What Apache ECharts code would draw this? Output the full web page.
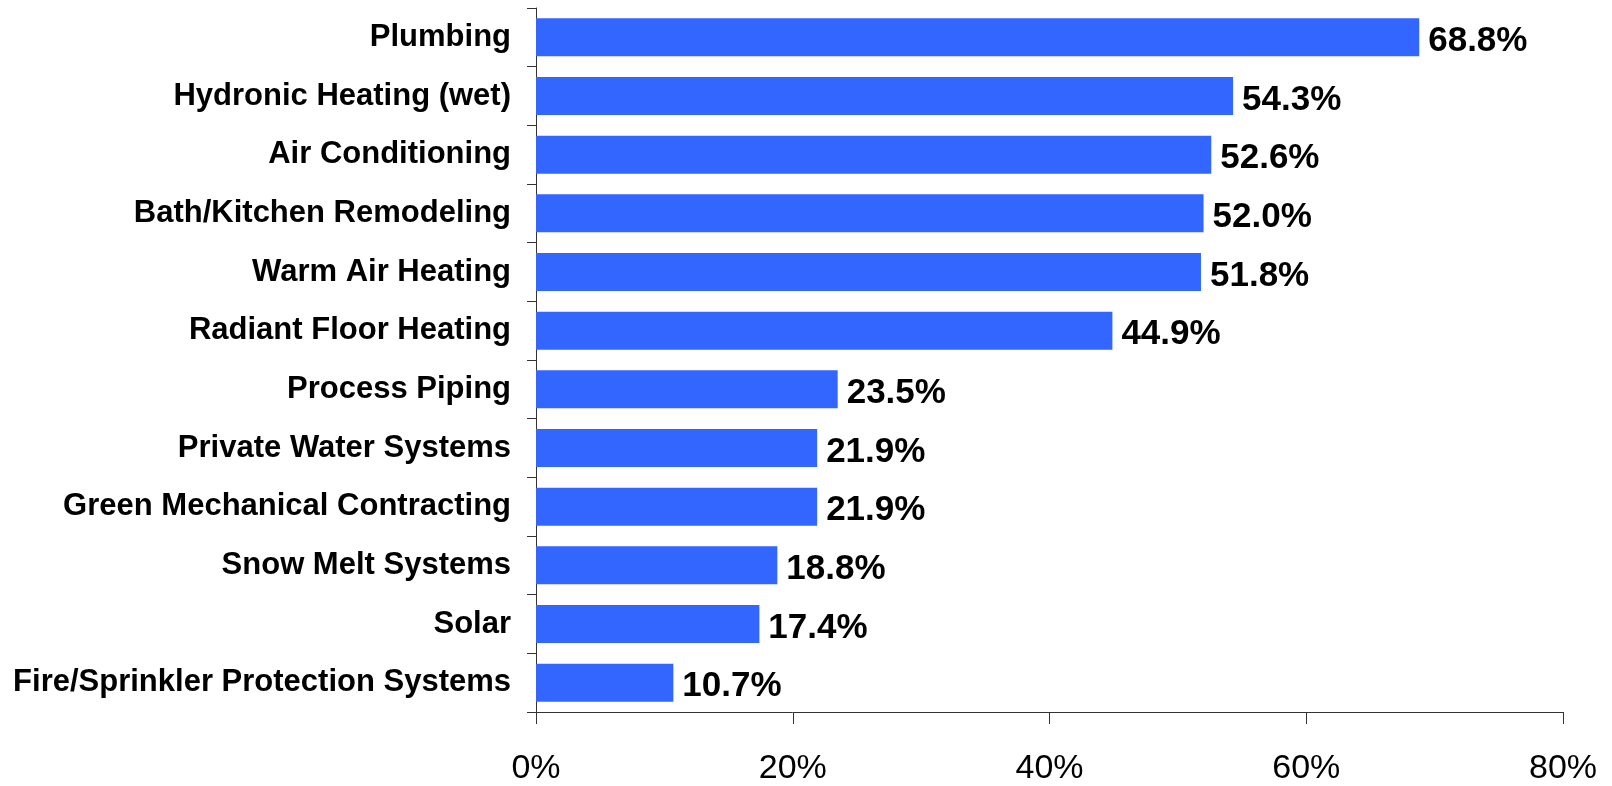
<!DOCTYPE html>
<html>
<head>
<meta charset="utf-8">
<script src="https://cdn.jsdelivr.net/npm/echarts@6/dist/echarts.min.js"></script>
<style>
html,body{margin:0;padding:0;background:#fff;}
#chart{width:1612px;height:786px;}
</style>
</head>
<body>
<div id="chart"></div>
<script>
const categories = [
  "Plumbing",
  "Hydronic Heating (wet)",
  "Air Conditioning",
  "Bath/Kitchen Remodeling",
  "Warm Air Heating",
  "Radiant Floor Heating",
  "Process Piping",
  "Private Water Systems",
  "Green Mechanical Contracting",
  "Snow Melt Systems",
  "Solar",
  "Fire/Sprinkler Protection Systems"
];
const values = [68.8, 54.3, 52.6, 52.0, 51.8, 44.9, 23.5, 21.9, 21.9, 18.8, 17.4, 10.7];
const xTicks = [0, 20, 40, 60, 80];

const chart = echarts.init(document.getElementById('chart'));
const font = '"Liberation Sans", Arial, Helvetica, sans-serif';
chart.setOption({
  animation: false,
  grid: { left: 536, right: 49, top: 8, bottom: 68 },
  xAxis: {
    type: 'value',
    min: xTicks[0],
    max: xTicks[xTicks.length - 1],
    interval: 20,
    splitLine: { show: false },
    axisLine: { show: true, lineStyle: { color: '#333', width: 1 } },
    axisTick: { show: true, length: 12, lineStyle: { color: '#333' } },
    axisLabel: {
      formatter: v => v + '%',
      fontFamily: font, fontSize: 34, color: '#000', margin: 40
    }
  },
  yAxis: {
    type: 'category',
    data: categories,
    inverse: true,
    axisLine: { show: true, lineStyle: { color: '#333', width: 1 } },
    axisTick: { show: true, length: 9, lineStyle: { color: '#333' } },
    axisLabel: {
      fontFamily: font, fontSize: 31, fontWeight: 'bold', color: '#000', margin: 25,
      padding: [5, 0, 0, 0]
    }
  },
  series: [{
    type: 'bar',
    data: values,
    barWidth: 38,
    itemStyle: { color: '#3366FF' },
    label: {
      show: true,
      position: 'right',
      distance: 9,
      offset: [0, 4],
      formatter: p => p.value.toFixed(1) + '%',
      fontFamily: font, fontSize: 35, fontWeight: 'bold', color: '#000'
    }
  }]
});
</script>
</body>
</html>
